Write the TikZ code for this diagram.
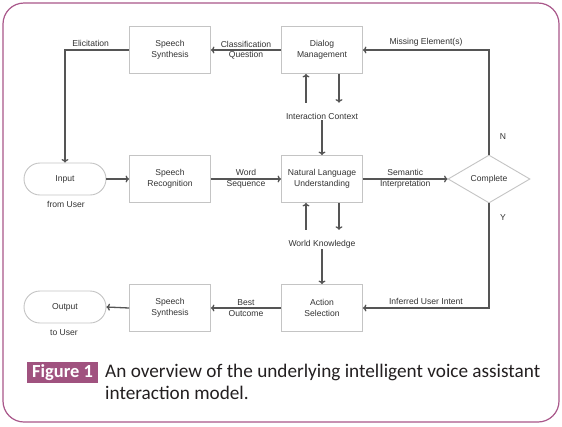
\documentclass[tikz,border=0pt]{standalone}
\usepackage{fontspec}
\setmainfont{Liberation Sans}
\newfontfamily\capfont{Carlito}
\usetikzlibrary{shapes.geometric,arrows.meta}
\definecolor{framepurple}{HTML}{A9578A}
\definecolor{figpurple}{HTML}{A0527F}
\definecolor{wiregray}{HTML}{555555}
\definecolor{boxgray}{HTML}{C4C4C4}
\definecolor{textgray}{HTML}{333333}
\definecolor{captext}{HTML}{231F20}
\begin{document}
\begin{tikzpicture}[
  x=1bp, y=-1bp,
  block/.style    = {draw=boxgray, line width=0.9bp, fill=white,
                     minimum width=81bp, minimum height=47bp,
                     font=\fontsize{8.6}{10.5}\selectfont, text=textgray, align=center},
  pill/.style     = {draw=boxgray, line width=0.9bp, fill=white, rounded corners=16bp,
                     minimum width=82bp, minimum height=32bp,
                     font=\fontsize{8.6}{10.5}\selectfont, text=textgray},
  decision/.style = {diamond, draw=boxgray, line width=0.9bp, fill=white, inner sep=0pt,
                     minimum width=82bp, minimum height=48bp,
                     font=\fontsize{8.6}{10.5}\selectfont, text=textgray},
  lbl/.style      = {font=\fontsize{8.6}{10.5}\selectfont, text=textgray,
                     align=center, inner sep=1bp},
  wire/.style     = {draw=wiregray, line width=1.3bp},
  >={To[length=3.5bp,width=7bp]}
]
  % Fundo e moldura
  \useasboundingbox (0,0) rectangle (562,426);
  \fill[white] (0,0) rectangle (562,426);
  \draw[framepurple, line width=1.2bp, rounded corners=21bp] (3,3) rectangle (559,422);

  % Blocos
  \node[block] (synT) at (170,50)  {Speech\\Synthesis};
  \node[block] (dm)   at (322,50)  {Dialog\\Management};
  \node[pill]  (inp)  at (65,179)  {Input};
  \node[block] (sr)   at (170,179) {Speech\\Recognition};
  \node[block] (nlu)  at (322,179) {Natural Language\\Understanding};
  \node[decision] (cmp) at (489,179) {Complete};
  \node[block] (act)  at (322,308) {Action\\Selection};
  \node[block] (synB) at (170,308) {Speech\\Synthesis};
  \node[pill]  (out)  at (65,307)  {Output};

  % Textos soltos
  \node[lbl] (ic)   at (322,116) {Interaction Context};
  \node[lbl] (wk)   at (322,244) {World Knowledge};
  \node[lbl] (frm)  at (66,204)  {from User};
  \node[lbl] (tou)  at (64,333)  {to User};
  \node[lbl] (lN)   at (503,137) {N};
  \node[lbl] (lY)   at (503,218) {Y};

  % Fios
  \draw[wire, ->] (dm.west) -- (synT.east)
        node[lbl, midway] {Classification\\Question};
  \draw[wire, ->] (synT.west) -| (inp.north)
        node[lbl, pos=0.3, above=2bp] {Elicitation};
  \draw[wire, ->] (inp.east) -- (sr.west);
  \draw[wire, ->] (sr.east) -- (nlu.west)
        node[lbl, midway] {Word\\Sequence};
  \draw[wire, ->] (nlu.east) -- (cmp.west)
        node[lbl, midway] {Semantic\\Interpretation};
  \draw[wire, ->] (cmp.north) |- (dm.east)
        node[lbl, pos=0.75, above=2bp] {Missing Element(s)};
  \draw[wire, ->] (cmp.south) |- (act.east)
        node[lbl, pos=0.75, above=2bp] {Inferred User Intent};
  \draw[wire, ->] (act.west) -- (synB.east)
        node[lbl, midway] {Best\\Outcome};
  \draw[wire, ->] (synB.west) -- (out.east);

  % Contexto e conhecimento
  \draw[wire, ->] ([xshift=-16bp,yshift=9bp]ic.north) -- ([xshift=-16bp]dm.south);
  \draw[wire, ->] ([xshift=17bp]dm.south) -- ([xshift=17bp,yshift=9bp]ic.north);
  \draw[wire, ->] (ic.south) -- (nlu.north);
  \draw[wire, ->] ([xshift=-16bp,yshift=9bp]wk.north) -- ([xshift=-16bp]nlu.south);
  \draw[wire, ->] ([xshift=17bp]nlu.south) -- ([xshift=17bp,yshift=9bp]wk.north);
  \draw[wire, ->] (wk.south) -- (act.north);

  % Legenda
  \node[fill=figpurple, text=white, inner sep=0pt, minimum width=71bp, minimum height=21bp,
        font=\capfont\bfseries\fontsize{18.5}{20}\selectfont] (fig) at (62.5,372.5) {Figure 1};
  \node[anchor=north west, inner sep=0pt, align=left, text=captext,
        font=\capfont\fontsize{19.3}{22}\selectfont] (cap) at (105,364)
        {An overview of the underlying intelligent voice assistant\\interaction model.};
\end{tikzpicture}
\end{document}
